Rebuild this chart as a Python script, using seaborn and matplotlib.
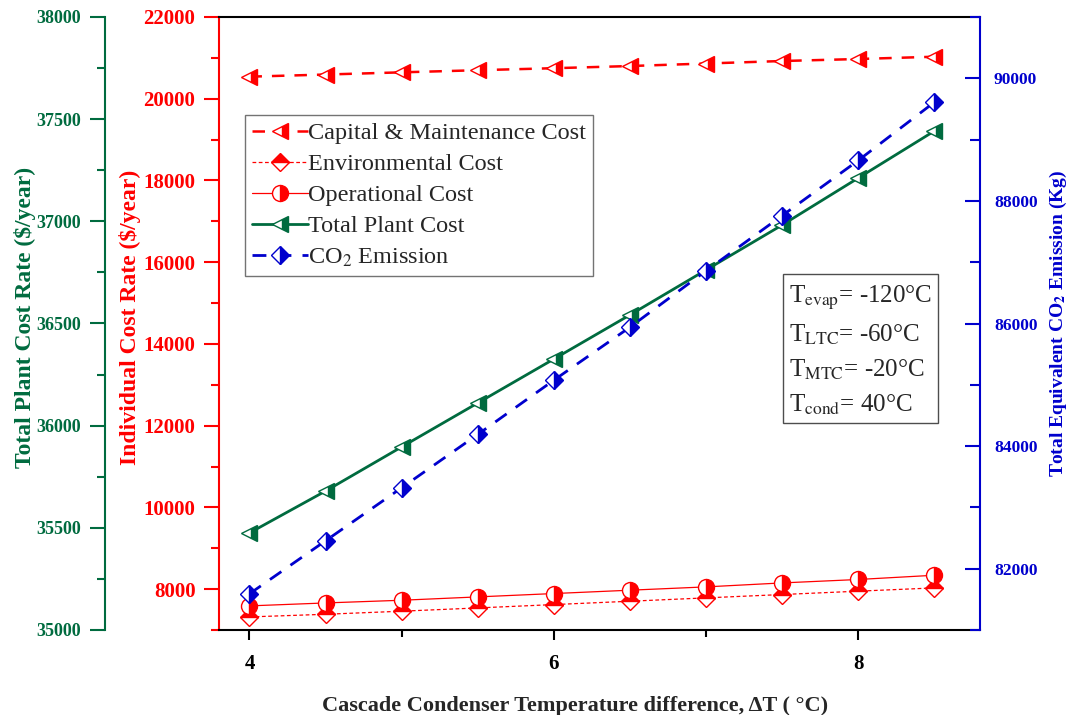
import matplotlib
matplotlib.use("Agg")
import matplotlib.pyplot as plt
from matplotlib.ticker import MultipleLocator
import pandas as pd
import seaborn as sns

# Cascade condenser temperature difference (°C)
delta_t = [4.0, 4.5, 5.0, 5.5, 6.0, 6.5, 7.0, 7.5, 8.0, 8.5]

# Individual cost rates ($/year)
capital_cost = [20540, 20592, 20646, 20698, 20747, 20800, 20862, 20923, 20972, 21028]
environmental_cost = [7320, 7385, 7460, 7540, 7622, 7704, 7786, 7868, 7950, 8030]
operational_cost = [7590, 7662, 7728, 7810, 7892, 7974, 8055, 8152, 8236, 8340]

# Total plant cost rate ($/year)
total_plant_cost = [35475, 35680, 35896, 36111, 36326, 36542, 36762, 36982, 37212, 37442]

# Total equivalent CO2 emission (kg)
co2_emission = [81590, 82455, 83320, 84190, 85075, 85940, 86860, 87760, 88660, 89610]

# Tick values for each axis
x_ticks = [4, 6, 8]
red_ticks = [8000, 10000, 12000, 14000, 16000, 18000, 20000, 22000]
green_ticks = [35000, 35500, 36000, 36500, 37000, 37500, 38000]
blue_ticks = [82000, 84000, 86000, 88000, 90000]

df = pd.DataFrame({
    "dT": delta_t,
    "capital": capital_cost,
    "environmental": environmental_cost,
    "operational": operational_cost,
    "total": total_plant_cost,
    "co2": co2_emission,
})

RED = "#FF0000"
GREEN = "#006B3F"
BLUE = "#0000CD"

sns.set_theme(style="ticks")
plt.rcParams["font.family"] = ["Liberation Serif", "DejaVu Serif"]
plt.rcParams["mathtext.fontset"] = "stix"

fig = plt.figure(figsize=(10.72, 7.15), dpi=100)
ax = fig.add_axes([219 / 1072, 85 / 715, 761 / 1072, 613 / 715])
ax_g = ax.twinx()
ax_b = ax.twinx()

# the green axis sits on an offset left spine (set first: moving a spine resets ticks)
ax_g.yaxis.set_ticks_position("left")
ax_g.yaxis.set_label_position("left")
ax_g.spines["left"].set_position(("axes", -0.15))
ax_g.spines["left"].set_visible(True)

common = dict(markeredgewidth=1.0, markerfacecoloralt="white", legend=False)

# Individual cost rates on the red axis
sns.lineplot(data=df, x="dT", y="capital", ax=ax, color=RED, linewidth=1.8,
             linestyle=(0, (5, 4)), marker="<", markersize=12, fillstyle="right",
             markeredgecolor=RED, markerfacecolor=RED, label="Capital & Maintenance Cost",
             **common)
sns.lineplot(data=df, x="dT", y="environmental", ax=ax, color=RED, linewidth=0.9,
             linestyle=(0, (3, 2)), marker="D", markersize=9.5, fillstyle="top",
             markeredgecolor=RED, markerfacecolor=RED, label="Environmental Cost",
             **common)
sns.lineplot(data=df, x="dT", y="operational", ax=ax, color=RED, linewidth=0.9,
             linestyle="-", marker="o", markersize=11.5, fillstyle="right",
             markeredgecolor=RED, markerfacecolor=RED, label="Operational Cost",
             **common)

# Total plant cost on the green axis
sns.lineplot(data=df, x="dT", y="total", ax=ax_g, color=GREEN, linewidth=2.0,
             linestyle="-", marker="<", markersize=12, fillstyle="right",
             markeredgecolor=GREEN, markerfacecolor=GREEN, label="Total Plant Cost",
             **common)

# CO2 emission on the blue axis
sns.lineplot(data=df, x="dT", y="co2", ax=ax_b, color=BLUE, linewidth=2.0,
             linestyle=(0, (5, 4)), marker="D", markersize=9.5, fillstyle="right",
             markeredgecolor=BLUE, markerfacecolor=BLUE, label="CO$_2$ Emission",
             **common)

bold = {"fontweight": "bold"}

# ----- x axis -----
ax.set_xlim(3.8, 8.8)
ax.set_xticks(x_ticks, [str(v) for v in x_ticks], **bold)
ax.xaxis.set_minor_locator(MultipleLocator(1))
ax.tick_params(axis="x", which="both", direction="out", colors="black",
               labelsize=15, width=1.5, pad=10)
ax.tick_params(axis="x", which="major", length=7)
ax.tick_params(axis="x", which="minor", length=5)
ax.set_xlabel("Cascade Condenser Temperature difference, ΔT ( °C)", fontsize=16,
              fontweight="bold")
ax.xaxis.set_label_coords(0.468, -0.108)

# ----- red (individual cost) axis -----
ax.set_ylim(7000, 22000)
ax.set_yticks(red_ticks, [str(v) for v in red_ticks], **bold)
ax.yaxis.set_minor_locator(MultipleLocator(1000))
ax.tick_params(axis="y", which="both", direction="out", colors=RED,
               labelsize=15, width=1.5, pad=6)
ax.tick_params(axis="y", which="major", length=11)
ax.tick_params(axis="y", which="minor", length=6)
ax.set_ylabel("Individual Cost Rate ($/year)", color=RED, fontsize=17,
              fontweight="bold")
ax.yaxis.set_label_coords(-0.102, 0.51)
ax.spines["left"].set_color(RED)
ax.spines["left"].set_linewidth(1.5)
ax.spines["right"].set_visible(False)
for s in ("top", "bottom"):
    ax.spines[s].set_color("black")
    ax.spines[s].set_linewidth(1.5)

# ----- green (total plant cost) axis -----
ax_g.set_ylim(35000, 38000)
ax_g.set_yticks(green_ticks, [str(v) for v in green_ticks], **bold)
ax_g.yaxis.set_minor_locator(MultipleLocator(250))
ax_g.spines["left"].set_color(GREEN)
ax_g.spines["left"].set_linewidth(1.5)
for s in ("right", "top", "bottom"):
    ax_g.spines[s].set_visible(False)
ax_g.tick_params(axis="y", which="both", direction="out", colors=GREEN,
                 labelsize=13, width=1.5, pad=6)
ax_g.tick_params(axis="y", which="major", length=11)
ax_g.tick_params(axis="y", which="minor", length=6)
ax_g.set_ylabel("Total Plant Cost Rate ($/year)", color=GREEN, fontsize=17,
                fontweight="bold")
ax_g.yaxis.set_label_coords(-0.240, 0.51)

# ----- blue (CO2) axis -----
ax_b.set_ylim(81000, 91000)
ax_b.set_yticks(blue_ticks, [str(v) for v in blue_ticks], **bold)
ax_b.yaxis.set_minor_locator(MultipleLocator(1000))
for s in ("left", "top", "bottom"):
    ax_b.spines[s].set_visible(False)
ax_b.spines["right"].set_color(BLUE)
ax_b.spines["right"].set_linewidth(1.5)
ax_b.tick_params(axis="y", which="both", direction="in", colors=BLUE,
                 labelsize=12.5, width=1.5, pad=10)
ax_b.tick_params(axis="y", which="major", length=11)
ax_b.tick_params(axis="y", which="minor", length=7)
ax_b.set_ylabel("Total Equivalent CO$_\\mathbf{2}$ Emission (Kg)", color=BLUE,
                fontsize=14, fontweight="bold")
ax_b.yaxis.set_label_coords(1.089, 0.50)

for a in (ax_g, ax_b):
    a.set_xlim(3.8, 8.8)

# ----- legend -----
handles = ax.get_lines() + ax_g.get_lines() + ax_b.get_lines()
labels = [h.get_label() for h in handles]
leg = ax_b.legend(handles, labels, loc="upper left", bbox_to_anchor=(0.034, 0.840),
                  frameon=True, fancybox=False, edgecolor="0.45", framealpha=1,
                  prop={"family": "Liberation Serif", "weight": "normal", "size": 17.5},
                  numpoints=1, handlelength=2.3, handletextpad=0.0,
                  labelspacing=0.37, borderpad=0.3, borderaxespad=0)
leg.get_frame().set_linewidth(1.0)

# ----- operating conditions box -----
conditions = ("T$_{\\mathrm{evap}}$= -120°C\n"
              "T$_{\\mathrm{LTC}}$= -60°C\n"
              "T$_{\\mathrm{MTC}}$= -20°C\n"
              "T$_{\\mathrm{cond}}$= 40°C")
ax_b.text(0.749, 0.564, conditions, transform=ax_b.transAxes, ha="left", va="top",
          fontsize=18, fontweight="normal", linespacing=1.55,
          bbox=dict(boxstyle="square,pad=0.25", facecolor="white", edgecolor="0.3",
                    linewidth=1.0))

fig.savefig("out.png", dpi=100)
